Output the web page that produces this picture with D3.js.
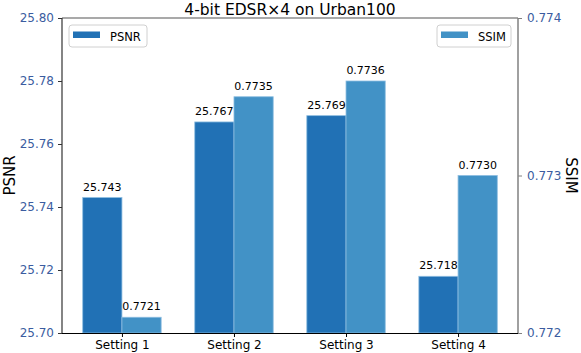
<!DOCTYPE html>
<html>
<head>
<meta charset="utf-8">
<script src="https://cdn.jsdelivr.net/npm/d3@7"></script>
<style>
  body { margin: 0; background: #fff; }
  svg { display: block; font-family: "DejaVu Sans", sans-serif; }
</style>
</head>
<body>
<div id="chart"></div>
<script>
// data
const settings = ['Setting 1', 'Setting 2', 'Setting 3', 'Setting 4'];
const psnr = [25.743, 25.767, 25.769, 25.718];
const ssim = [0.7721, 0.7735, 0.7736, 0.7730];
const psnrTicks = [25.70, 25.72, 25.74, 25.76, 25.78, 25.80];
const ssimTicks = [0.772, 0.773, 0.774];

const width = 581, height = 353;
const margin = {top: 18, right: 63, bottom: 20, left: 62};
const barW = 0.35;
const tickColor = '#3b5ca0';

const svg = d3.select('#chart').append('svg')
    .attr('width', width)
    .attr('height', height);

// x is a linear scale over category index, like matplotlib
const x = d3.scaleLinear()
    .domain([-0.535, 3.535])
    .range([margin.left, width - margin.right]);
const yL = d3.scaleLinear().domain([25.70, 25.80]).range([height - margin.bottom, margin.top]);
const yR = d3.scaleLinear().domain([0.772, 0.774]).range([height - margin.bottom, margin.top]);

const x0 = x.range()[0], x1 = x.range()[1];
const y0 = yL.range()[0], y1 = yL.range()[1];

// bars
const g = svg.append('g');
g.selectAll('.psnr').data(psnr).enter().append('rect')
    .attr('class', 'psnr')
    .attr('x', (d, i) => x(i - barW))
    .attr('width', (d, i) => x(i) - x(i - barW))
    .attr('y', d => yL(d))
    .attr('height', d => y0 - yL(d))
    .attr('fill', '#2171b5')
    .attr('stroke', '#8dbde0').attr('stroke-width', 0.8);

g.selectAll('.ssim').data(ssim).enter().append('rect')
    .attr('class', 'ssim')
    .attr('x', (d, i) => x(i))
    .attr('width', (d, i) => x(i + barW) - x(i))
    .attr('y', d => yR(d))
    .attr('height', d => y0 - yR(d))
    .attr('fill', '#4292c6')
    .attr('stroke', '#8dbde0').attr('stroke-width', 0.8);

// value labels
g.selectAll('.lp').data(psnr).enter().append('text')
    .attr('x', (d, i) => x(i - barW / 2))
    .attr('y', d => yL(d) - 7)
    .attr('text-anchor', 'middle')
    .style('font-size', '11px')
    .text(d => d.toFixed(3));

g.selectAll('.ls').data(ssim).enter().append('text')
    .attr('x', (d, i) => x(i + barW / 2))
    .attr('y', d => yR(d) - 7)
    .attr('text-anchor', 'middle')
    .style('font-size', '11px')
    .text(d => d.toFixed(4));

// spines
svg.append('line').attr('x1', x0).attr('x2', x1).attr('y1', y1).attr('y2', y1).attr('stroke', '#555').attr('stroke-width', 1.2);
svg.append('line').attr('x1', x1).attr('x2', x1).attr('y1', y1).attr('y2', y0).attr('stroke', '#808080').attr('stroke-width', 1.5);
svg.append('line').attr('x1', x0).attr('x2', x0).attr('y1', y1).attr('y2', y0).attr('stroke', '#333').attr('stroke-width', 1.2);

// axes
const axL = svg.append('g')
    .attr('transform', 'translate(' + x0 + ',0)')
    .call(d3.axisLeft(yL).tickValues(psnrTicks).tickFormat(d3.format('.2f')).tickSize(4).tickPadding(4));
axL.select('.domain').remove();
axL.selectAll('text').attr('fill', tickColor).style('font-size', '12px').style('font-family', 'DejaVu Sans');
axL.selectAll('line').attr('stroke', '#333');

const axR = svg.append('g')
    .attr('transform', 'translate(' + x1 + ',0)')
    .call(d3.axisRight(yR).tickValues(ssimTicks).tickFormat(d3.format('.3f')).tickSize(4).tickPadding(5));
axR.select('.domain').remove();
axR.selectAll('text').attr('fill', tickColor).style('font-size', '12px').style('font-family', 'DejaVu Sans');
axR.selectAll('line').attr('stroke', '#808080');

const axB = svg.append('g')
    .attr('transform', 'translate(0,' + y0 + ')')
    .call(d3.axisBottom(x).tickValues([0, 1, 2, 3]).tickFormat(i => settings[i]).tickSize(4).tickPadding(3));
axB.select('.domain').attr('d', 'M' + x0 + ',0.5H' + x1).attr('stroke', '#000').attr('stroke-width', 1.2);
axB.selectAll('text').attr('fill', '#000').style('font-size', '12px').style('font-family', 'DejaVu Sans');

// title and axis labels
svg.append('text')
    .attr('x', (x0 + x1) / 2).attr('y', 14.5)
    .attr('text-anchor', 'middle')
    .style('font-size', '15.5px')
    .text('4-bit EDSR×4 on Urban100');

svg.append('text')
    .attr('transform', 'translate(15,' + ((y0 + y1) / 2) + ') rotate(-90)')
    .attr('text-anchor', 'middle')
    .style('font-size', '15px')
    .text('PSNR');

svg.append('text')
    .attr('transform', 'translate(566,' + ((y0 + y1) / 2) + ') rotate(90)')
    .attr('text-anchor', 'middle')
    .style('font-size', '15px')
    .text('SSIM');

// legends
function legend(lx, ly, w, label, color) {
    const lg = svg.append('g').attr('transform', 'translate(' + lx + ',' + ly + ')');
    lg.append('rect').attr('width', w).attr('height', 22).attr('rx', 3)
        .attr('fill', 'rgba(255,255,255,0.8)').attr('stroke', '#d0d0d0');
    lg.append('rect').attr('x', 4).attr('y', 6.5).attr('width', 27).attr('height', 6.5).attr('fill', color);
    lg.append('text').attr('x', 41).attr('y', 15.5).style('font-size', '11.5px').text(label);
}
legend(69, 25, 78, 'PSNR', '#2171b5');
legend(437, 25, 74, 'SSIM', '#4292c6');
</script>
</body>
</html>
